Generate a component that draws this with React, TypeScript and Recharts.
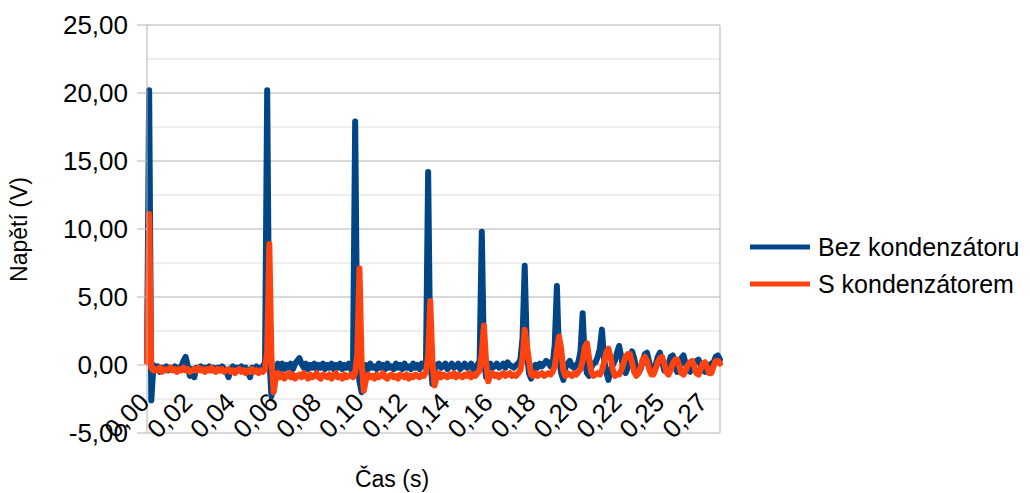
import { LineChart, Line, XAxis, YAxis, CartesianGrid, ReferenceLine } from "recharts"

// Bez kondenzátoru (V), one value per sample
const BEZ_KONDENZATORU = [
  0.3, 20.2, -2.6, 0.0,
  -0.3, -0.1, -0.5, -0.2, -0.3, -0.1, -0.4, -0.2, -0.3, -0.1,
  -0.4, -0.2, -0.1, 0.3, 0.6, -0.1, -0.8, -0.3, -0.9, -0.2,
  -0.3, -0.1, -0.4, -0.2, -0.3, -0.1, -0.4, -0.2, -0.3, -0.2,
  -0.4, -0.1, -0.3, -0.5, -0.9, -0.3, -0.1, -0.4, -0.2, -0.3,
  -0.1, -0.4, -0.2, -0.5, -0.9, -0.2, -0.3, -0.1, -0.4, -0.2,
  -0.1, 0.2,
  20.2, 0.5, -2.3, -0.6,
  -0.2, 0.1, -0.3, 0.1, -0.3, 0.0, -0.2, 0.1, -0.3, 0.1,
  0.3, 0.5, 0.1, -0.2, 0.1, -0.3, 0.0, -0.2, 0.1, -0.3,
  0.0, -0.2, 0.1, -0.3, 0.0, -0.2, 0.1, -0.3, 0.0, -0.2,
  0.1, -0.3, 0.0, -0.2, 0.1, -0.3, 0.1,
  17.9, 0.5, -1.2, -2.0, -0.4,
  0.0, -0.3, 0.1, -0.2, -0.1, -0.3, 0.1, -0.2, 0.0, -0.3,
  0.1, -0.2, -0.1, -0.3, 0.1, -0.2, 0.0, -0.3, 0.1, -0.2,
  -0.1, -0.3, 0.1, -0.2, 0.0, -0.3, 0.1, -0.1, 0.2,
  14.2, 0.3, -1.4, -0.3,
  0.0, 0.1, -0.2, -0.1, 0.1, -0.3, -0.1, 0.1, -0.2, -0.1,
  0.1, -0.3, -0.1, 0.1, -0.2, -0.1, 0.1, -0.3, -0.1, 0.0,
  0.3,
  9.8, 0.4, -0.9, -0.2,
  0.1, -0.2, -0.1, 0.1, -0.2, -0.1, 0.1, -0.2, 0.2, 0.0,
  -0.1, -0.2, 0.0, 0.1, 0.4,
  2.0, 7.3, 1.0, -0.6, -1.0, -0.3,
  0.0, -0.2, 0.1, -0.1, 0.1, 0.3, 0.2, -0.1, 0.0,
  1.5, 5.8, 0.5, -0.6, -1.1, -0.2,
  0.1, 0.3, -0.1, -0.2, 0.0, 0.2,
  1.0, 3.8, 0.3, -0.6, -0.8,
  -0.2, 0.1, 0.2, 0.6,
  1.2, 2.6, 0.4, -0.5, -1.1, -0.4, 0.0, 0.3, 0.9, 1.4,
  0.6, -0.3, -0.6, -0.2, 0.4, 1.0, 0.5, -0.3, -0.6, -0.3,
  0.3, 0.8, 0.9, 0.2, -0.5, -0.6, 0.0, 0.6, 0.9, 0.3,
  -0.4, -0.5, 0.1, 0.6, 0.7, 0.0, -0.5, -0.2, 0.5, 0.7,
  0.1, -0.4, -0.5, -0.1, 0.2, 0.3, 0.4, 0.0, -0.4, -0.5,
  -0.2, 0.0, 0.1, 0.2, 0.6, 0.7, 0.4,
]

// S kondenzátorem (V)
const S_KONDENZATOREM = [
  0.2, 11.1, -0.2, -0.4,
  -0.3, -0.4, -0.2, -0.5, -0.3, -0.4, -0.3, -0.2, -0.4, -0.3,
  -0.5, -0.3, -0.4, -0.2, -0.4, -0.3, -0.5, -0.4, -0.3, -0.4,
  -0.2, -0.4, -0.3, -0.5, -0.3, -0.4, -0.2, -0.4, -0.5, -0.3,
  -0.4, -0.3, -0.5, -0.4, -0.3, -0.5, -0.4, -0.6, -0.4, -0.3,
  -0.5, -0.4, -0.6, -0.4, -0.5, -0.3, -0.5, -0.4, -0.6, -0.4,
  -0.5, -0.3,
  1.0, 8.9, 0.5, -2.0, -1.0,
  -0.6, -0.9, -0.7, -1.0, -0.8, -0.6, -0.9, -0.7, -1.0, -0.8,
  -0.7, -0.9, -0.6, -0.8, -1.0, -0.7, -0.9, -0.8, -0.6, -0.9,
  -1.0, -0.7, -0.8, -0.9, -0.7, -1.0, -0.8, -0.6, -0.9, -0.8,
  -1.0, -0.7, -0.9, -0.8, -0.7, -0.9, -0.6,
  0.8, 7.1, 0.2, -1.9, -1.1,
  -0.7, -0.9, -0.8, -1.0, -0.7, -0.9, -0.8, -0.6, -0.9, -1.0,
  -0.8, -0.7, -0.9, -0.8, -1.0, -0.7, -0.8, -0.9, -0.7, -1.0,
  -0.8, -0.9, -0.7, -0.8, -0.9, -0.7, -0.8, -0.5,
  0.6, 4.7, 0.2, -1.5, -0.9,
  -0.6, -0.9, -0.7, -0.8, -0.9, -0.7, -0.8, -0.6, -0.9, -0.7,
  -0.8, -0.9, -0.7, -0.8, -0.6, -0.9, -0.7, -0.8, -0.6, -0.4,
  0.8, 2.9, 0.2, -1.2, -0.7,
  -0.6, -0.8, -0.7, -0.9, -0.7, -0.6, -0.8, -0.7, -0.6, -0.8,
  -0.7, -0.8, -0.6, -0.4,
  0.5, 2.6, 1.5, 0.3, -0.7, -0.8,
  -0.6, -0.8, -0.7, -0.6, -0.8, -0.7, -0.6, -0.7, -0.5,
  -0.1, 1.0, 2.1, 1.2, -0.4, -0.8,
  -0.6, -0.7, -0.8, -0.6, -0.7, -0.5, -0.3,
  0.3, 1.3, 1.6, 0.5, -0.5, -0.8,
  -0.7, -0.6, -0.7, -0.4, 0.2, 0.9, 1.2, 0.6, -0.3, -0.8,
  -0.7, -0.7, -0.4, 0.1, 0.6, 0.8, 0.8, 0.2, -0.5, -0.8,
  -0.6, -0.2, 0.4, 0.6, 0.3, -0.3, -0.7, -0.7, -0.3, 0.2,
  0.5, 0.6, 0.1, -0.5, -0.7, -0.4, 0.1, 0.4, 0.4, -0.1,
  -0.6, -0.7, -0.4, 0.0, 0.2, 0.3, -0.1, -0.6, -0.7, -0.3,
  0.1, 0.2, -0.2, -0.6, -0.6, -0.1, 0.3, 0.3, 0.1,
]

// category labels, one every 20 samples
const TIME_LABELS = [
  "0,00", "0,02", "0,04", "0,06", "0,08", "0,10", "0,12",
  "0,14", "0,16", "0,18", "0,20", "0,22", "0,25", "0,27",
]
const LABEL_STEP = 20

const Y_TICKS = [-5, 0, 5, 10, 15, 20, 25]
const Y_MINOR = [-2.5, 2.5, 7.5, 12.5, 17.5, 22.5]

const BLUE = "#004586"
const ORANGE = "#ff420e"
const GRID = "#b3b3b3"
const FONT = "'Liberation Sans', Arial, sans-serif"

const data = BEZ_KONDENZATORU.map((v, i) => ({
  i,
  bez: v,
  s: S_KONDENZATOREM[i],
}))

const lastIdx = data.length - 1

function TimeTick({ x, payload }: any) {
  const label = TIME_LABELS[Math.round(payload.value / LABEL_STEP)]
  const ax = x + 4
  const ay = 404
  return (
    <text
      x={ax}
      y={ay}
      transform={`rotate(-45, ${ax}, ${ay})`}
      textAnchor="end"
      fontSize={26}
      fontFamily={FONT}
      fill="#000"
    >
      {label}
    </text>
  )
}

export default function App() {
  return (
    <div
      style={{
        position: "absolute",
        left: 0,
        top: 0,
        width: 1030,
        height: 493,
        background: "#fff",
        fontFamily: FONT,
      }}
    >
      <LineChart
        width={1030}
        height={493}
        data={data}
        margin={{ top: 25, right: 310, bottom: 0, left: 0 }}
      >
        <CartesianGrid vertical={false} horizontalValues={Y_MINOR} stroke="#dddddd" />
        <CartesianGrid vertical={false} stroke={GRID} />
        <ReferenceLine x={lastIdx} stroke={GRID} />
        <XAxis
          type="number"
          dataKey="i"
          domain={[0, lastIdx]}
          ticks={TIME_LABELS.map((_, k) => k * LABEL_STEP)}
          interval={0}
          tick={<TimeTick />}
          tickLine={false}
          axisLine={false}
          height={60}
        />
        <YAxis
          domain={[-5, 25]}
          ticks={Y_TICKS}
          interval={0}
          width={147}
          tickSize={10}
          tickMargin={9}
          tickLine={{ stroke: GRID }}
          axisLine={{ stroke: GRID }}
          tick={{ fontSize: 26, fill: "#000", fontFamily: FONT }}
          tickFormatter={(v: number) => v.toFixed(2).replace(".", ",")}
        />
        <Line
          dataKey="bez"
          name="Bez kondenzátoru"
          type="linear"
          stroke={BLUE}
          strokeWidth={6}
          strokeLinejoin="round"
          strokeLinecap="round"
          dot={false}
          isAnimationActive={false}
        />
        <Line
          dataKey="s"
          name="S kondenzátorem"
          type="linear"
          stroke={ORANGE}
          strokeWidth={6}
          strokeLinejoin="round"
          strokeLinecap="round"
          dot={false}
          isAnimationActive={false}
        />
      </LineChart>

      {/* axis titles and legend */}
      <svg
        width={1030}
        height={493}
        style={{ position: "absolute", left: 0, top: 0, pointerEvents: "none" }}
      >
        <text
          transform="translate(27, 229.5) rotate(-90)"
          textAnchor="middle"
          fontSize={23}
          fontFamily={FONT}
          fill="#000"
        >
          Napětí (V)
        </text>
        <text x={392} y={487} textAnchor="middle" fontSize={23} fontFamily={FONT} fill="#000">
          Čas (s)
        </text>

        <line x1={750} x2={810} y1={247} y2={247} stroke={BLUE} strokeWidth={5} />
        <text x={818} y={256} fontSize={25} fontFamily={FONT} fill="#000">
          Bez kondenzátoru
        </text>
        <line x1={750} x2={810} y1={284} y2={284} stroke={ORANGE} strokeWidth={5} />
        <text x={818} y={293} fontSize={25} fontFamily={FONT} fill="#000">
          S kondenzátorem
        </text>
      </svg>
    </div>
  )
}
